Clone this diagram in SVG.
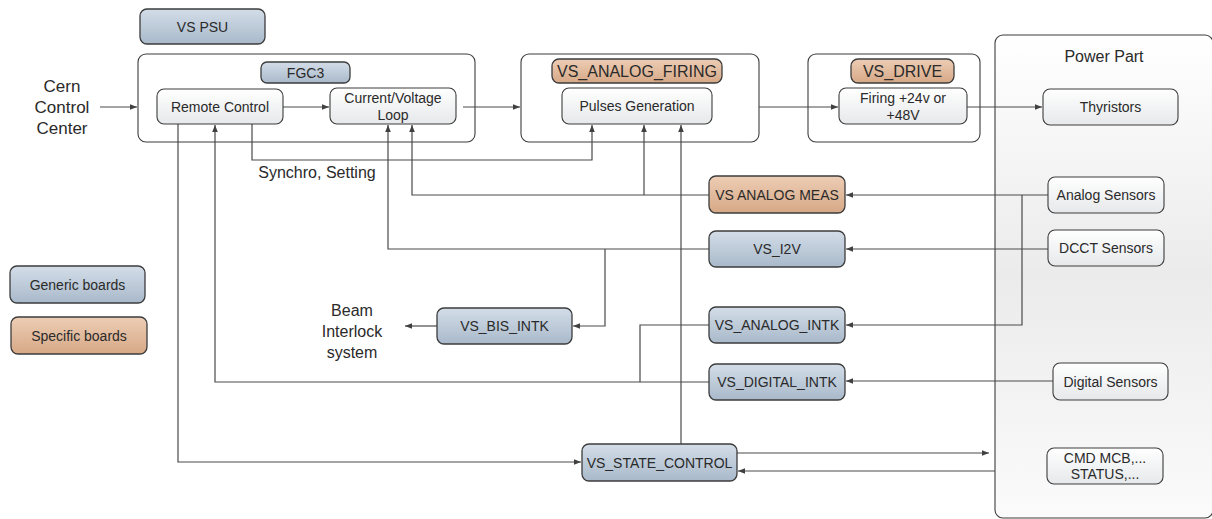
<svg xmlns="http://www.w3.org/2000/svg" width="1212" height="519" viewBox="0 0 1212 519">
<defs>
<linearGradient id="gBlue" x1="0" y1="0" x2="0" y2="1"><stop offset="0" stop-color="#d3dde8"/><stop offset="1" stop-color="#a9b9ca"/></linearGradient>
<linearGradient id="gOrange" x1="0" y1="0" x2="0" y2="1"><stop offset="0" stop-color="#edcdb5"/><stop offset="1" stop-color="#d6a886"/></linearGradient>
<linearGradient id="gWhite" x1="0" y1="0" x2="0" y2="1"><stop offset="0" stop-color="#ffffff"/><stop offset="1" stop-color="#e6e8ea"/></linearGradient>
<linearGradient id="gPower" x1="0" y1="0" x2="0" y2="1"><stop offset="0" stop-color="#ffffff"/><stop offset="0.5" stop-color="#ebebeb"/><stop offset="1" stop-color="#fbfbfb"/></linearGradient>
<marker id="arr" viewBox="0 0 10 10" refX="10" refY="5" markerWidth="8" markerHeight="7" markerUnits="userSpaceOnUse" orient="auto"><path d="M0,1 L10,5 L0,9 z" fill="#404040"/></marker>
</defs>
<style>
.blue{fill:url(#gBlue);stroke:#3c3c3c;stroke-width:1.3}
.orange{fill:url(#gOrange);stroke:#3c3c3c;stroke-width:1.3}
.white{fill:url(#gWhite);stroke:#3c3c3c;stroke-width:1.1}
.frame{fill:#ffffff;stroke:#3c3c3c;stroke-width:1.1}
.t{font-family:"Liberation Sans",Arial,sans-serif;font-size:14px;fill:#2a2a2a;text-anchor:middle}
.big{font-size:16px}
.mid{font-size:16px}
.huge{font-size:17px}
#connectors path{fill:none;stroke:#4a4a4a;stroke-width:1.2}
.a{marker-end:url(#arr)}
</style>
<rect width="1212" height="519" fill="#ffffff"/>

<g id="power_part">
<rect x="995" y="35" width="218" height="483" rx="8" fill="url(#gPower)" stroke="#3c3c3c" stroke-width="1.1"/>
<text class="t mid" x="1104" y="62">Power Part</text>
</g>

<g id="fgc3_frame">
<rect class="frame" x="138" y="54" width="337" height="88" rx="8"/>
</g>
<g id="analog_firing_frame">
<rect class="frame" x="521" y="54" width="238" height="88" rx="8"/>
</g>
<g id="drive_frame">
<rect class="frame" x="808" y="54" width="172" height="88" rx="8"/>
</g>

<g id="connectors">
<path class="a" d="M100,107 H137"/>
<path class="a" d="M283,107 H329"/>
<path class="a" d="M463,107 H520"/>
<path class="a" d="M759,107 H838"/>
<path class="a" d="M967,107 H1042"/>
<path class="a" d="M252,124 V160 H592 V125"/>
<path class="a" d="M709,195 H412 V125"/>
<path class="a" d="M644,195 V125"/>
<path class="a" d="M1048,195 H846"/>
<path class="a" d="M1022,195 V325 H846"/>
<path class="a" d="M1048,249 H846"/>
<path class="a" d="M709,249 H388 V125"/>
<path class="a" d="M605,249 V326 H573"/>
<path class="a" d="M437,326 H405"/>
<path d="M709,325 H640 V382"/>
<path class="a" d="M709,382 H215 V125"/>
<path class="a" d="M1053,381 H846"/>
<path class="a" d="M178,124 V462 H581"/>
<path class="a" d="M681,444 V125"/>
<path class="a" d="M737,453 H989"/>
<path class="a" d="M995,471 H738"/>
</g>

<g id="vs_psu"><rect class="blue" x="140" y="9" width="125" height="35" rx="7"/><text class="t" x="202.5" y="31.5">VS PSU</text></g>
<g id="fgc3"><rect class="blue" x="261" y="62" width="89" height="21" rx="6"/><text class="t" x="305.5" y="77.5">FGC3</text></g>
<g id="remote_control"><rect class="white" x="157" y="89" width="126" height="35" rx="7"/><text class="t" x="220" y="111.5">Remote Control</text></g>
<g id="cv_loop"><rect class="white" x="330" y="88" width="126" height="36" rx="7"/><text class="t" x="393" y="103">Current/Voltage</text><text class="t" x="393" y="120">Loop</text></g>
<g id="cern"><text class="t huge" x="62" y="92">Cern</text><text class="t huge" x="62" y="113">Control</text><text class="t huge" x="62" y="134">Center</text></g>
<g id="vs_analog_firing"><rect class="orange" x="552" y="59" width="170" height="24" rx="7"/><text class="t big" x="637" y="77">VS_ANALOG_FIRING</text></g>
<g id="pulses"><rect class="white" x="562" y="88" width="150" height="36" rx="7"/><text class="t" x="637" y="111">Pulses Generation</text></g>
<g id="vs_drive"><rect class="orange" x="851" y="59" width="103" height="24" rx="7"/><text class="t big" x="902.5" y="77">VS_DRIVE</text></g>
<g id="firing"><rect class="white" x="839" y="88" width="128" height="36" rx="7"/><text class="t" x="903" y="103">Firing +24v or</text><text class="t" x="903" y="120">+48V</text></g>
<g id="thyristors"><rect class="white" x="1043" y="89" width="135" height="36" rx="7"/><text class="t" x="1110.5" y="112">Thyristors</text></g>
<g id="synchro"><text class="t mid" x="317" y="178">Synchro, Setting</text></g>
<g id="analog_meas"><rect class="orange" x="709" y="176" width="136" height="37" rx="7"/><text class="t" x="777" y="199.5">VS ANALOG MEAS</text></g>
<g id="analog_sensors"><rect class="white" x="1048" y="177" width="116" height="36" rx="7"/><text class="t" x="1106" y="200">Analog Sensors</text></g>
<g id="vs_i2v"><rect class="blue" x="709" y="231" width="136" height="36" rx="7"/><text class="t" x="777" y="254">VS_I2V</text></g>
<g id="dcct"><rect class="white" x="1048" y="230" width="116" height="36" rx="7"/><text class="t" x="1106" y="253">DCCT Sensors</text></g>
<g id="legend_generic"><rect class="blue" x="10" y="266" width="135" height="37" rx="7"/><text class="t" x="77.5" y="289.5">Generic boards</text></g>
<g id="legend_specific"><rect class="orange" x="11" y="317" width="136" height="37" rx="7"/><text class="t" x="79" y="340.5">Specific boards</text></g>
<g id="beam"><text class="t mid" x="352" y="316">Beam</text><text class="t mid" x="352" y="337">Interlock</text><text class="t mid" x="352" y="358">system</text></g>
<g id="vs_bis_intk"><rect class="blue" x="437" y="308" width="135" height="36" rx="7"/><text class="t" x="504.5" y="331">VS_BIS_INTK</text></g>
<g id="vs_analog_intk"><rect class="blue" x="709" y="307" width="136" height="36" rx="7"/><text class="t" x="777" y="330">VS_ANALOG_INTK</text></g>
<g id="vs_digital_intk"><rect class="blue" x="709" y="364" width="136" height="36" rx="7"/><text class="t" x="777" y="387">VS_DIGITAL_INTK</text></g>
<g id="digital_sensors"><rect class="white" x="1053" y="363" width="115" height="37" rx="7"/><text class="t" x="1110.5" y="386.5">Digital Sensors</text></g>
<g id="vs_state_control"><rect class="blue" x="582" y="444" width="155" height="37" rx="7"/><text class="t" x="659.5" y="467.5">VS_STATE_CONTROL</text></g>
<g id="cmd_mcb"><rect class="white" x="1047" y="448" width="116" height="36" rx="7"/><text class="t" x="1105" y="463">CMD MCB,...</text><text class="t" x="1105" y="479">STATUS,...</text></g>
</svg>
